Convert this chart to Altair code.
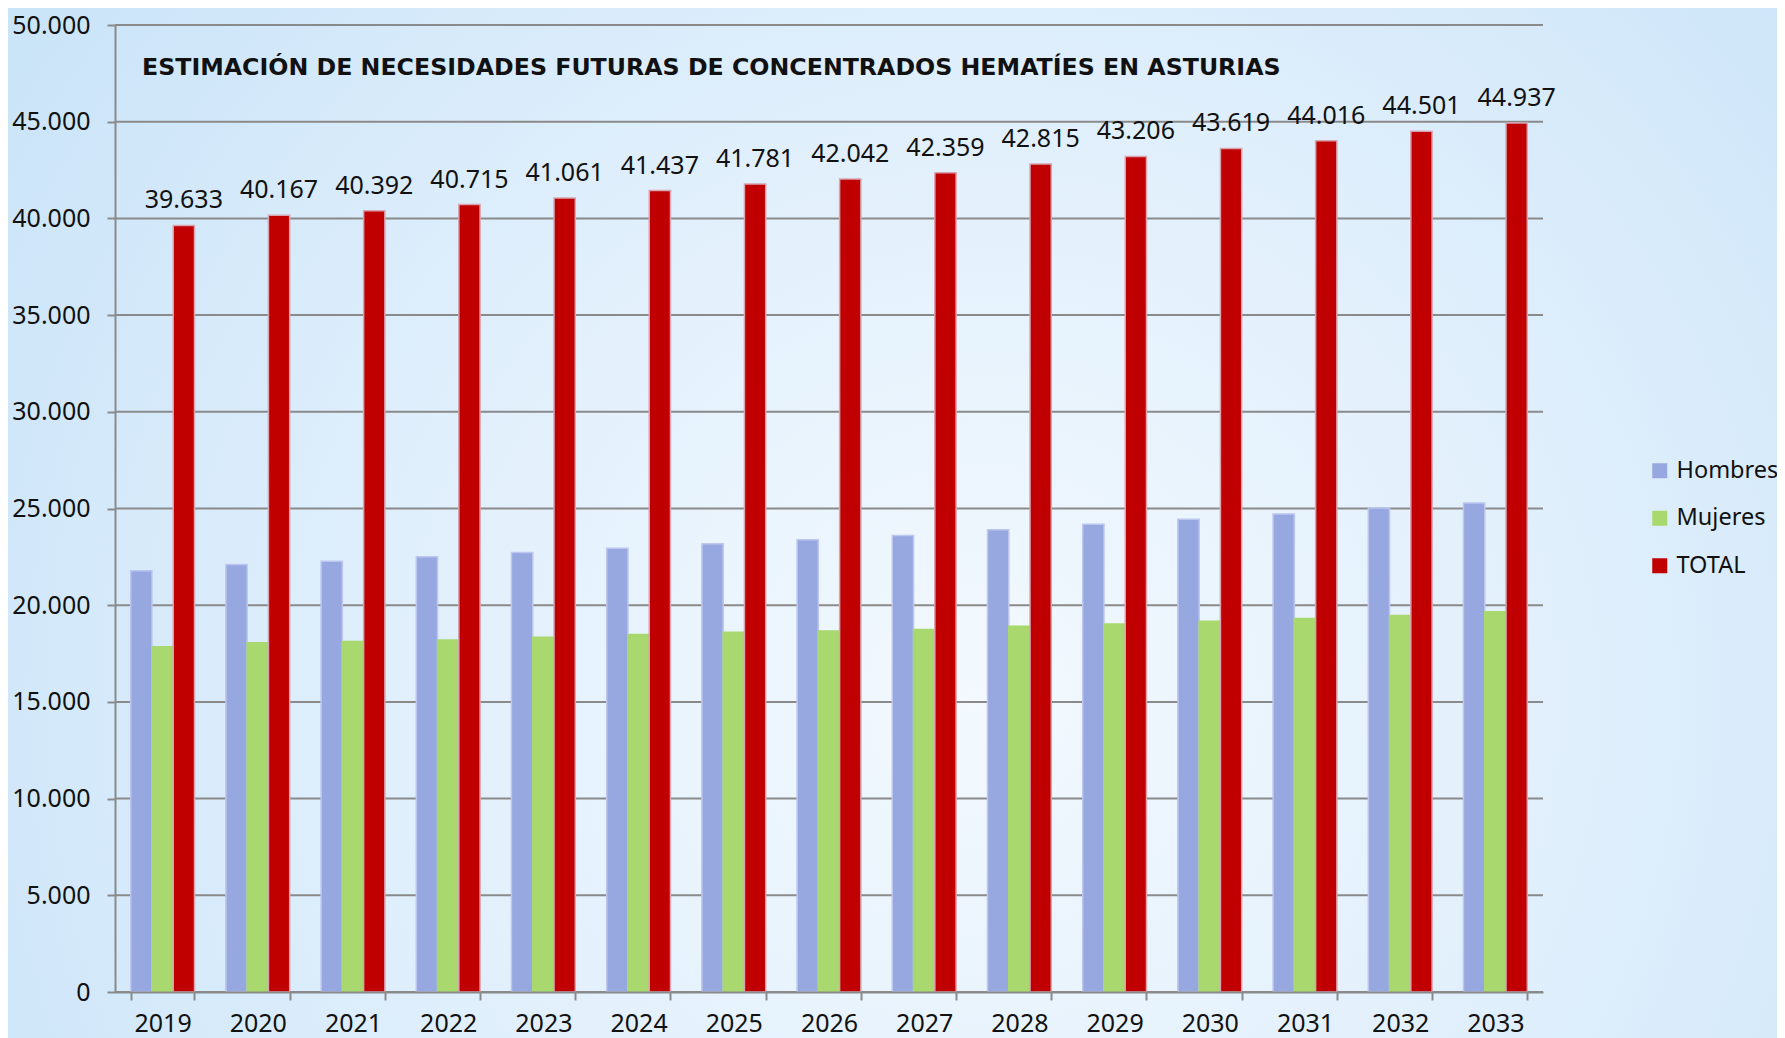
import altair as alt
import pandas as pd

years = ["2019", "2020", "2021", "2022", "2023", "2024", "2025", "2026",
         "2027", "2028", "2029", "2030", "2031", "2032", "2033"]
hombres = [21780, 22110, 22270, 22510, 22720, 22950, 23180, 23380,
           23610, 23900, 24180, 24450, 24710, 25030, 25280]
mujeres = [17853, 18057, 18122, 18205, 18341, 18487, 18601, 18662,
           18749, 18915, 19026, 19169, 19306, 19471, 19657]
total = [39633, 40167, 40392, 40715, 41061, 41437, 41781, 42042,
         42359, 42815, 43206, 43619, 44016, 44501, 44937]
series = ["Hombres", "Mujeres", "TOTAL"]
colors = ["#97a7df", "#a8d86e", "#c00000"]
strokes = ["#bcc6ef", "#a8d86e", "#d8a4b0"]
y_ticks = [0, 5000, 10000, 15000, 20000, 25000, 30000, 35000, 40000, 45000, 50000]
title_text = "ESTIMACIÓN DE NECESIDADES FUTURAS DE CONCENTRADOS HEMATÍES EN ASTURIAS"

rows = []
for i, yr in enumerate(years):
    for s, vals in zip(series, [hombres, mujeres, total]):
        rows.append({"anio": yr, "serie": s, "valor": vals[i]})
df = pd.DataFrame(rows)
grid_df = pd.DataFrame({"valor": y_ticks})

W, H = 1428, 967
PAD = {"left": 107, "top": 17, "right": 234, "bottom": 46}
GRAY = "#8a8a8a"
LABEL_FONT = "Noto Sans"

gradient = alt.Gradient(
    gradient="radial",
    stops=[
        alt.GradientStop(color="#f3f9fe", offset=0),
        alt.GradientStop(color="#e0effc", offset=0.45),
        alt.GradientStop(color="#c4e1f7", offset=1),
    ],
    x1=0.55, y1=0.6, r1=0, x2=0.55, y2=0.6, r2=0.75,
)

bg = alt.Chart(alt.Data(values=[{"a": 1}])).mark_rect(color=gradient).encode(
    x=alt.value(-PAD["left"]),
    x2=alt.value(W + PAD["right"]),
    y=alt.value(-PAD["top"]),
    y2=alt.value(H + PAD["bottom"]),
)

yscale = alt.Scale(domain=[0, 50000], nice=False)
yaxis = alt.Axis(
    values=y_ticks, grid=False, tickSize=8, tickWidth=2, tickColor=GRAY,
    domainColor=GRAY, domainWidth=2, labelFont=LABEL_FONT, labelFontSize=25,
    labelColor="#111111", labelPadding=17, zindex=1,
    labelExpr="replace(format(datum.value, ',d'), ',', '.')",
)

grid = alt.Chart(grid_df).mark_rule(color=GRAY, strokeWidth=2).encode(
    y=alt.Y("valor:Q", scale=yscale, axis=yaxis, title=None)
)

xenc = alt.X(
    "anio:N",
    sort=years,
    title=None,
    scale=alt.Scale(paddingInner=0.33, paddingOuter=0.165),
    axis=alt.Axis(
        labelAngle=0, tickBand="extent", tickSize=8, tickWidth=2, tickColor=GRAY,
        domainColor=GRAY, domainWidth=2, labelFont=LABEL_FONT, labelFontSize=25,
        labelColor="#111111", labelPadding=11, zindex=1, grid=False,
    ),
)

yenc = alt.Y("valor:Q", scale=yscale, title=None, axis=yaxis)

bars = alt.Chart(df).mark_bar(strokeWidth=1.5).encode(
    x=xenc,
    y=yenc,
    xOffset=alt.XOffset("serie:N", sort=series),
    color=alt.Color(
        "serie:N",
        sort=series,
        scale=alt.Scale(domain=series, range=colors),
        legend=alt.Legend(
            title=None, orient="none", legendX=1533, legendY=434,
            symbolType="square", symbolSize=225, symbolStrokeWidth=0,
            labelFont=LABEL_FONT, labelFontSize=23.5, labelColor="#111111",
            labelOffset=5, rowPadding=22.5, padding=0, labelLimit=200,
        ),
    ),
    stroke=alt.Stroke("serie:N", scale=alt.Scale(domain=series, range=strokes), legend=None),
)

labels = alt.Chart(df).transform_filter(
    alt.datum.serie == "TOTAL"
).transform_calculate(
    etiqueta="replace(format(datum.valor, ',d'), ',', '.')"
).mark_text(
    font=LABEL_FONT, fontSize=25, color="#111111", baseline="alphabetic", dy=-17
).encode(
    x=alt.X("anio:N", sort=years),
    xOffset=alt.XOffset("serie:N", sort=series),
    y=alt.Y("valor:Q", scale=yscale),
    text="etiqueta:N",
)

chart = alt.layer(bg, grid, bars, labels).resolve_scale(
    xOffset="shared"
).properties(
    width=W,
    height=H,
    padding=PAD,
    autosize=alt.AutoSizeParams(type="none"),
    background="#d0e7f9",
    title=alt.TitleParams(
        title_text, anchor="start", orient="top", frame="group", dx=27,
        offset=-91, baseline="alphabetic", font="DejaVu Sans", fontSize=23.7,
        fontWeight="bold", color="#111111",
    ),
).configure_view(stroke=None)

chart.save("out.html", embed_options={"renderer": "svg", "actions": False})
